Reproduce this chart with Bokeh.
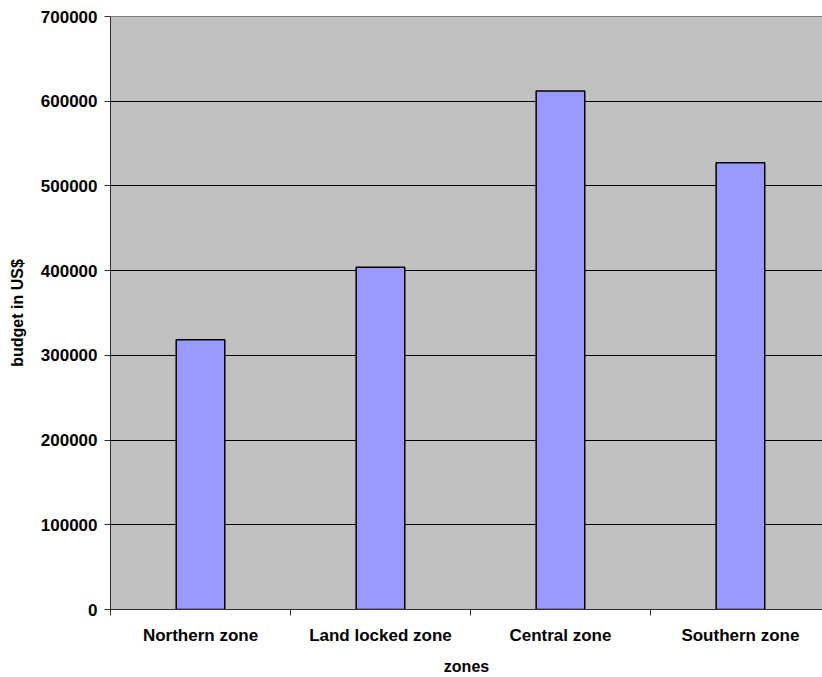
from bokeh.plotting import figure
from bokeh.models import (Range1d, FixedTicker, LinearAxis, BasicTickFormatter)
from bokeh.embed import file_html
from bokeh.resources import INLINE

# Budget per zone (US$)
zones = ["Northern zone", "Land locked zone", "Central zone", "Southern zone"]
budget = [318500, 404000, 612000, 527500]
y_ticks = [0, 100000, 200000, 300000, 400000, 500000, 600000, 700000]

FONT = "Liberation Sans"

centers = [i + 0.5 for i in range(len(zones))]
boundaries = [float(i) for i in range(len(zones) + 1)]

p = figure(width=822, height=677, output_backend="svg", toolbar_location=None,
           x_range=Range1d(0, 3.956), y_range=Range1d(0, 700000),
           min_border_left=110, min_border_right=0, min_border_top=16,
           min_border_bottom=68)

p.background_fill_color = "#C0C0C0"
p.border_fill_color = "white"
p.outline_line_color = None

# bars
p.vbar(x=centers, top=budget, width=0.27, bottom=0,
       fill_color="#9999FF", line_color="black", line_width=1.5)

# horizontal grid lines
p.xgrid.visible = False
p.ygrid.ticker = FixedTicker(ticks=y_ticks[1:-1])
p.ygrid.grid_line_color = "black"
p.ygrid.grid_line_width = 1

# y axis
ya = p.yaxis[0]
ya.ticker = FixedTicker(ticks=y_ticks)
ya.formatter = BasicTickFormatter(use_scientific=False)
ya.minor_tick_line_color = None
ya.major_tick_out = 6
ya.major_tick_in = 0
ya.major_label_standoff = 7
ya.major_label_text_font = FONT
ya.major_label_text_font_style = "bold"
ya.major_label_text_font_size = "17px"
ya.major_label_text_color = "black"
ya.axis_line_color = "#303030"
ya.major_tick_line_color = "#303030"
ya.axis_label = "budget in US$"
ya.axis_label_text_font = FONT
ya.axis_label_text_font_style = "bold"
ya.axis_label_text_font_size = "16px"
ya.axis_label_text_color = "black"
ya.axis_label_standoff = 12

# x axis: labels at category centres, tick marks at category boundaries
xa = p.xaxis[0]
xa.ticker = FixedTicker(ticks=centers, minor_ticks=boundaries)
xa.major_label_overrides = {c: z for c, z in zip(centers, zones)}
xa.major_tick_out = 0
xa.major_tick_in = 0
xa.minor_tick_out = 6
xa.minor_tick_in = 0
xa.minor_tick_line_color = "#303030"
xa.axis_line_color = "#303030"
xa.major_label_standoff = 10
xa.major_label_text_font = FONT
xa.major_label_text_font_style = "bold"
xa.major_label_text_font_size = "17px"
xa.major_label_text_color = "black"
xa.axis_label = "zones"
xa.axis_label_text_font = FONT
xa.axis_label_text_font_style = "bold"
xa.axis_label_text_font_size = "16px"
xa.axis_label_text_color = "black"
xa.axis_label_standoff = 10

# top border of the plot area
top = LinearAxis(ticker=FixedTicker(ticks=[]), axis_line_color="#808080",
                 major_tick_line_color=None, minor_tick_line_color=None,
                 major_label_text_font_size="0px")
p.add_layout(top, "above")

open("out.html", "w").write(file_html(p, INLINE))
